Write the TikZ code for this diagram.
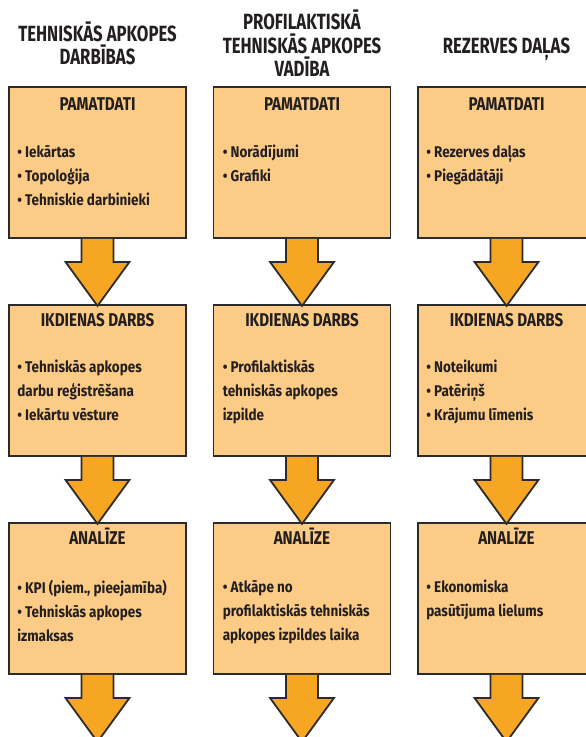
\documentclass[tikz,border=0pt]{standalone}
\usepackage{fontspec}
\setmainfont{Fira Sans}[FakeStretch=0.76]
\newfontfamily\headfont{Fira Sans}[FakeStretch=0.82]
\newfontfamily\itemfont{Fira Sans}[FakeStretch=0.87]
\usepackage{tikz}
\usetikzlibrary{positioning}
\usepackage{xcolor}
\definecolor{PanelFill}{HTML}{FCCB86}
\definecolor{ArrowFill}{HTML}{F6A623}
\definecolor{PanelLine}{HTML}{2B2B2B}
\definecolor{InkDark}{HTML}{231F20}
\tikzset{
    % Box styles
    panel/.style={
        rectangle,
        draw=PanelLine,
        fill=PanelFill,
        line width=1.8pt,
        minimum width=177pt,
        minimum height=151pt,
        inner sep=0pt
    },
    heading/.style={
        inner sep=0pt,
        text height=13pt,
        text=InkDark,
        font=\headfont\bfseries\fontsize{18.5}{22}\selectfont
    },
    items/.style={
        align=left,
        inner sep=0pt,
        text=InkDark,
        execute at begin node=\strut,
        font=\itemfont\bfseries\fontsize{15.5}{24}\selectfont
    },
    coltitle/.style={
        anchor=base,
        align=center,
        inner sep=0pt,
        text=InkDark,
        font=\bfseries\fontsize{22}{23.5}\selectfont
    },
    % Big block arrow between the boxes
    arrowbody/.style={
        draw=PanelLine,
        fill=ArrowFill,
        line width=1.8pt
    },
    fatarrow/.pic={
        \filldraw[arrowbody] (-16,0) -- (-16,23) -- (-32,23) -- (0,67)
            -- (32,23) -- (16,23) -- (16,0);
    }
}

\begin{document}
\begin{tikzpicture}[x=1pt, y=-1pt]
    \useasboundingbox (0,0) rectangle (586,737);

    % Column titles
    \node[coltitle] (t1) at (97.5,64.5) {TEHNISKĀS APKOPES\\DARBĪBAS};
    \node[coltitle] (t2) at (302,76.5) {PROFILAKTISKĀ\\TEHNISKĀS APKOPES\\VADĪBA};
    \node[coltitle] (t3) at (506.5,53) {REZERVES DAĻAS};

    % Boxes
    \node[panel] (a1) at (97.5,162.5) {};
    \node[panel] (b1) at (302,162.5) {};
    \node[panel] (c1) at (506.5,162.5) {};
    \node[panel] (a2) at (97.5,380.5) {};
    \node[panel] (b2) at (302,380.5) {};
    \node[panel] (c2) at (506.5,380.5) {};
    \node[panel] (a3) at (97.5,598.5) {};
    \node[panel] (b3) at (302,598.5) {};
    \node[panel] (c3) at (506.5,598.5) {};

    % Box headings
    \foreach \col in {a,b,c} {
        \node[heading, below=11pt of \col1.north] {PAMATDATI};
        \node[heading, below=9pt of \col2.north] {IKDIENAS DARBS};
        \node[heading, below=9pt of \col3.north] {ANALĪZE};
    }

    % Box contents
    \node[items, below right=59pt and 9pt of a1.north west] (a1txt)
        {• Iekārtas\\• Topoloģija\\• Tehniskie darbinieki};
    \node[items, below right=59pt and 10pt of b1.north west] (b1txt)
        {• Norādījumi\\• Grafiki};
    \node[items, below right=59pt and 9pt of c1.north west] (c1txt)
        {• Rezerves daļas\\• Piegādātāji};
    \node[items, below right=56pt and 9pt of a2.north west] (a2txt)
        {• Tehniskās apkopes\\darbu reģistrēšana\\• Iekārtu vēsture};
    \node[items, below right=56pt and 10pt of b2.north west] (b2txt)
        {• Profilaktiskās\\tehniskās apkopes\\izpilde};
    \node[items, below right=56pt and 9pt of c2.north west] (c2txt)
        {• Noteikumi\\• Patēriņš\\• Krājumu līmenis};
    \node[items, below right=58pt and 9pt of a3.north west] (a3txt)
        {• KPI (piem., pieejamība)\\• Tehniskās apkopes\\izmaksas};
    \node[items, below right=58pt and 10pt of b3.north west] (b3txt)
        {• Atkāpe no\\profilaktiskās tehniskās\\apkopes izpildes laika};
    \node[items, below right=58pt and 9pt of c3.north west] (c3txt)
        {• Ekonomiska\\pasūtījuma lielums};

    % Arrows down
    \foreach \col in {a,b,c} {
        \pic at (\col1.south) {fatarrow};
        \pic at (\col2.south) {fatarrow};
        \pic at (\col3.south) {fatarrow};
    }
\end{tikzpicture}
\end{document}
